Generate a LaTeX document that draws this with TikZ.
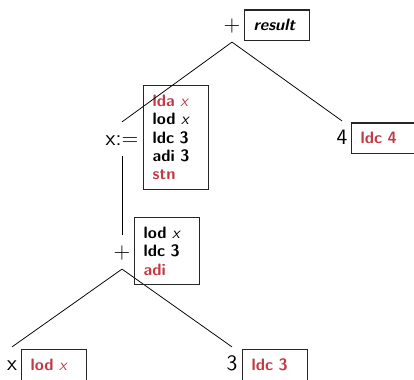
\documentclass[tikz,border=0pt]{standalone}
\usepackage{fontspec}
\definecolor{codered}{RGB}{192,57,67}
\tikzset{
  lbl/.style={font=\Large\sffamily, inner sep=0pt, minimum height=22pt, text height=9pt, text depth=0pt},
  codebox/.style={draw=black!85, line width=0.7pt, anchor=north west,
    font=\fontsize{10.8}{12}\selectfont\sffamily\bfseries,
    align=left, text width=30.6pt, inner xsep=6pt, inner ysep=6.2pt, minimum height=19.6pt},
  treeedge/.style={line width=0.5pt}
}
\newcommand{\red}[1]{\textcolor{codered}{#1}}
\newcommand{\var}{{\mdseries\itshape x}}
\begin{document}
\begin{tikzpicture}[x=0.655pt, y=-0.655pt]
  \useasboundingbox (0,0) rectangle (414,380);

  % operator / operand labels
  \node[lbl] (p1)    at (232,25)  {+};
  \node[lbl] (asg)   at (122,139) {x:=};
  \node[lbl] (four)  at (342,138) {4};
  \node[lbl] (p2)    at (122,252) {+};
  \node[lbl] (xv)    at (12,364)  {x};
  \node[lbl] (three) at (232,364) {3};

  % tree edges
  \draw[treeedge] (p1.south) -- (four.north);
  \draw[treeedge] (asg.south) -- (p2.north);
  \draw[treeedge] (p2.south) -- (xv.north);
  \draw[treeedge] (p2.south) -- (three.north);

  % generated code attached to each node
  \node[codebox] (b1) at (244,9.5) {\itshape result};
  \node[codebox] (b2) at (143,85) {\red{lda \var}\\lod \var\\ldc 3\\adi 3\\\red{stn}};
  \node[codebox] (b3) at (351,122.5) {\red{ldc 4}};
  \node[codebox] (b4) at (134,217) {lod \var\\ldc 3\\\red{adi}};
  \node[codebox] (b5) at (21,349) {\red{lod \var}};
  \node[codebox] (b6) at (242,349) {\red{ldc 3}};

  % the assignment edge runs across its code box
  \draw[treeedge] (p1.south) -- (asg.north);
\end{tikzpicture}
\end{document}
